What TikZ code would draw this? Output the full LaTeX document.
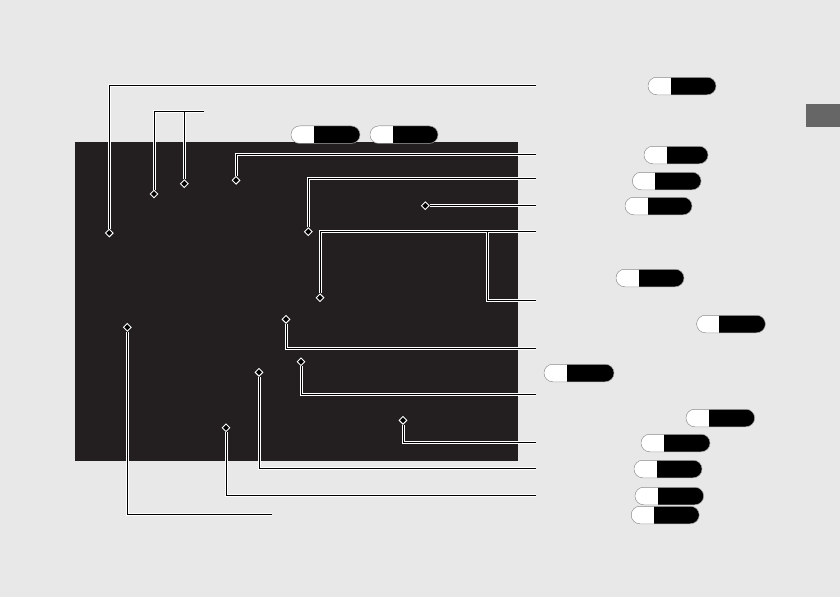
\documentclass[tikz,border=0pt]{standalone}
\usetikzlibrary{shapes.misc,shapes.geometric}
\definecolor{bgc}{HTML}{E8E8E8}
\definecolor{panel}{HTML}{231F20}
\definecolor{tabc}{HTML}{666666}
\tikzset{
  leader/.style={preaction={draw=white,line width=3pt},draw=black,line width=1pt},
  pin/.style={diamond,fill=black,draw=white,line width=0.9pt,minimum size=8pt,inner sep=0pt},
  pill/.style={rounded rectangle,minimum width=68pt,minimum height=17.5pt,inner sep=0pt,
    fill=black,draw=gray!70,line width=0.5pt,
    path picture={\fill[white] (path picture bounding box.south west) rectangle ([xshift=22.7pt]path picture bounding box.north west);}},
}
\begin{document}
\begin{tikzpicture}[x=1pt,y=-1pt]
\fill[bgc] (0,0) rectangle (840,597);
\useasboundingbox (0,0) rectangle (840,597);
\fill[panel] (75,141.7) rectangle (518,460.7);
\fill[tabc] (806,104) rectangle (840,126.7);
% pins
\node[pin] (d1) at (109.3,233) {};
\node[pin] (d2) at (154,194) {};
\node[pin] (d3) at (184.3,183.7) {};
\node[pin] (d4) at (236,180.3) {};
\node[pin] (d5) at (308.3,231.7) {};
\node[pin] (d6) at (425.3,205.7) {};
\node[pin] (d7) at (320,297.7) {};
\node[pin] (d8) at (286,319.3) {};
\node[pin] (d9) at (301,361.7) {};
\node[pin] (d10) at (403,420.3) {};
\node[pin] (d11) at (259,372.3) {};
\node[pin] (d12) at (226,427.7) {};
\node[pin] (d13) at (127.3,327.3) {};
% free ends
\coordinate (e1) at (536,85);
\coordinate (b2) at (204,111);
\coordinate (e3) at (536,154.3);
\coordinate (e4) at (536,178.3);
\coordinate (e5) at (536,205.7);
\coordinate (e6) at (536,231.7);
\coordinate (br6) at (487.3,231.7);
\coordinate (e6b) at (536,300.3);
\coordinate (e7) at (536,348.3);
\coordinate (e8) at (536,394.3);
\coordinate (e9) at (536,442.3);
\coordinate (e10) at (536,468.3);
\coordinate (e11) at (536,495.3);
\coordinate (e12) at (272,514.3);
% leaders
\draw[leader] (d1) |- (e1);
\draw[leader] (d2) |- (b2) (d3) -- (d3 |- b2);
\draw[leader] (d4) |- (e3);
\draw[leader] (d5) |- (e4);
\draw[leader] (d6) -- (e5);
\draw[leader] (d7) |- (e6) (br6) |- (e6b);
\draw[leader] (d8) |- (e7);
\draw[leader] (d9) |- (e8);
\draw[leader] (d10) |- (e9);
\draw[leader] (d11) |- (e10);
\draw[leader] (d12) |- (e11);
\draw[leader] (d13) |- (e12);
% pills
\node[pill] (p1) at (682,86) {};
\node[pill,minimum width=69pt] (p2) at (325.5,134.7) {};
\node[pill] (p3) at (404,134.7) {};
\node[pill,minimum width=64pt] (p4) at (676,155) {};
\node[pill,minimum width=68.7pt] (p5) at (666.7,181) {};
\node[pill,minimum width=67pt] (p6) at (658.5,206) {};
\node[pill] (p7) at (650,278) {};
\node[pill,minimum width=68.7pt] (p8) at (731,324) {};
\node[pill,minimum width=70pt] (p9) at (579,373) {};
\node[pill,minimum width=68.7pt] (p10) at (720.3,418) {};
\node[pill,minimum width=69pt] (p11) at (675.5,443) {};
\node[pill] (p12) at (668,469) {};
\node[pill,minimum width=68.7pt] (p13) at (669.3,496) {};
\node[pill] (p14) at (665.2,515) {};
\end{tikzpicture}
\end{document}
